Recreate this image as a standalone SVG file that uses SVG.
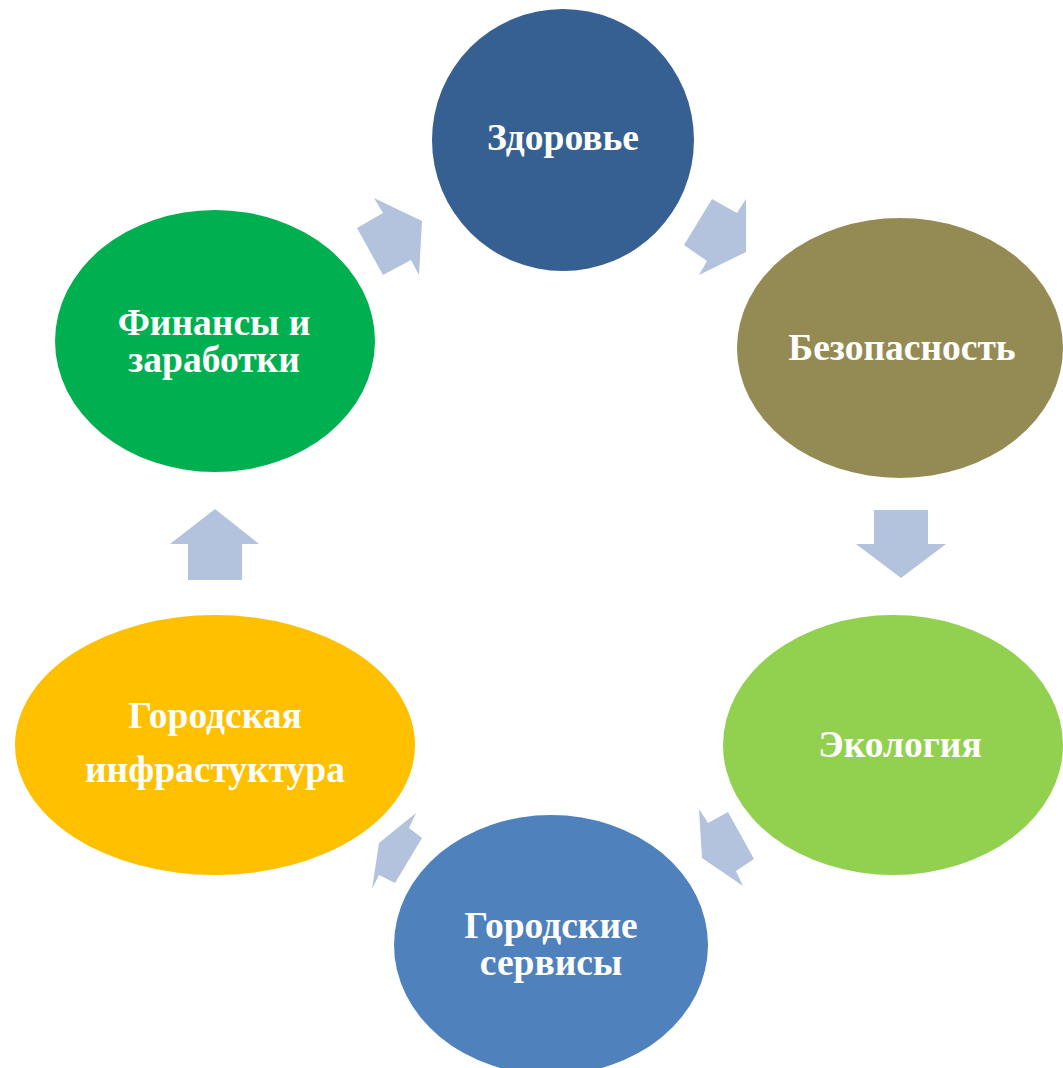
<svg xmlns="http://www.w3.org/2000/svg" width="1063" height="1068" viewBox="0 0 1063 1068">
<style>
.lbl{font-family:"Liberation Serif","Times New Roman",serif;font-weight:bold;font-size:37.5px;fill:#ffffff;text-anchor:middle}
.arr{fill:#b3c3de}
</style>
<rect width="1063" height="1068" fill="#ffffff"/>
<g id="connectors">
<polygon class="arr" points="357,228 383,213 374,198 422,221 419,275 411,260 383,275"/>
<polygon class="arr" points="712,199 737,213 746,199 746,252 699,275 707,261 684,245"/>
<polygon class="arr" points="874,510 928,510 928,544 946,544 901,578 856,544 874,544"/>
<polygon class="arr" points="699,809 708,823 728,812 754,859 736,871 743,886 702,858"/>
<polygon class="arr" points="416,813 409,828 422,838 395,883 379,875 372,889 379,843"/>
<polygon class="arr" points="215,509 259,544 242,544 242,580 188,580 188,544 170,544"/>
</g>
<g id="node-zdorovye">
<ellipse cx="563" cy="140" rx="131" ry="131" fill="#376092"/>
<text class="lbl" x="563" y="150">Здоровье</text>
</g>
<g id="node-bezopasnost">
<ellipse cx="900" cy="348" rx="163" ry="130" fill="#948a54"/>
<text class="lbl" x="902" y="360">Безопасность</text>
</g>
<g id="node-ekologiya">
<ellipse cx="893" cy="745" rx="170" ry="130" fill="#92d050"/>
<text class="lbl" x="900" y="757">Экология</text>
</g>
<g id="node-servisy">
<ellipse cx="551" cy="945" rx="157" ry="130" fill="#4f81bd"/>
<text class="lbl" x="551" y="938">Городские</text>
<text class="lbl" x="551" y="975">сервисы</text>
</g>
<g id="node-infrastruktura">
<ellipse cx="215" cy="745" rx="200" ry="130" fill="#ffc000"/>
<text class="lbl" x="215" y="728">Городская</text>
<text class="lbl" x="215" y="782">инфрастуктура</text>
</g>
<g id="node-finansy">
<ellipse cx="215" cy="341" rx="160" ry="131" fill="#00b050"/>
<text class="lbl" x="214" y="335">Финансы и</text>
<text class="lbl" x="214" y="372">заработки</text>
</g>
</svg>
